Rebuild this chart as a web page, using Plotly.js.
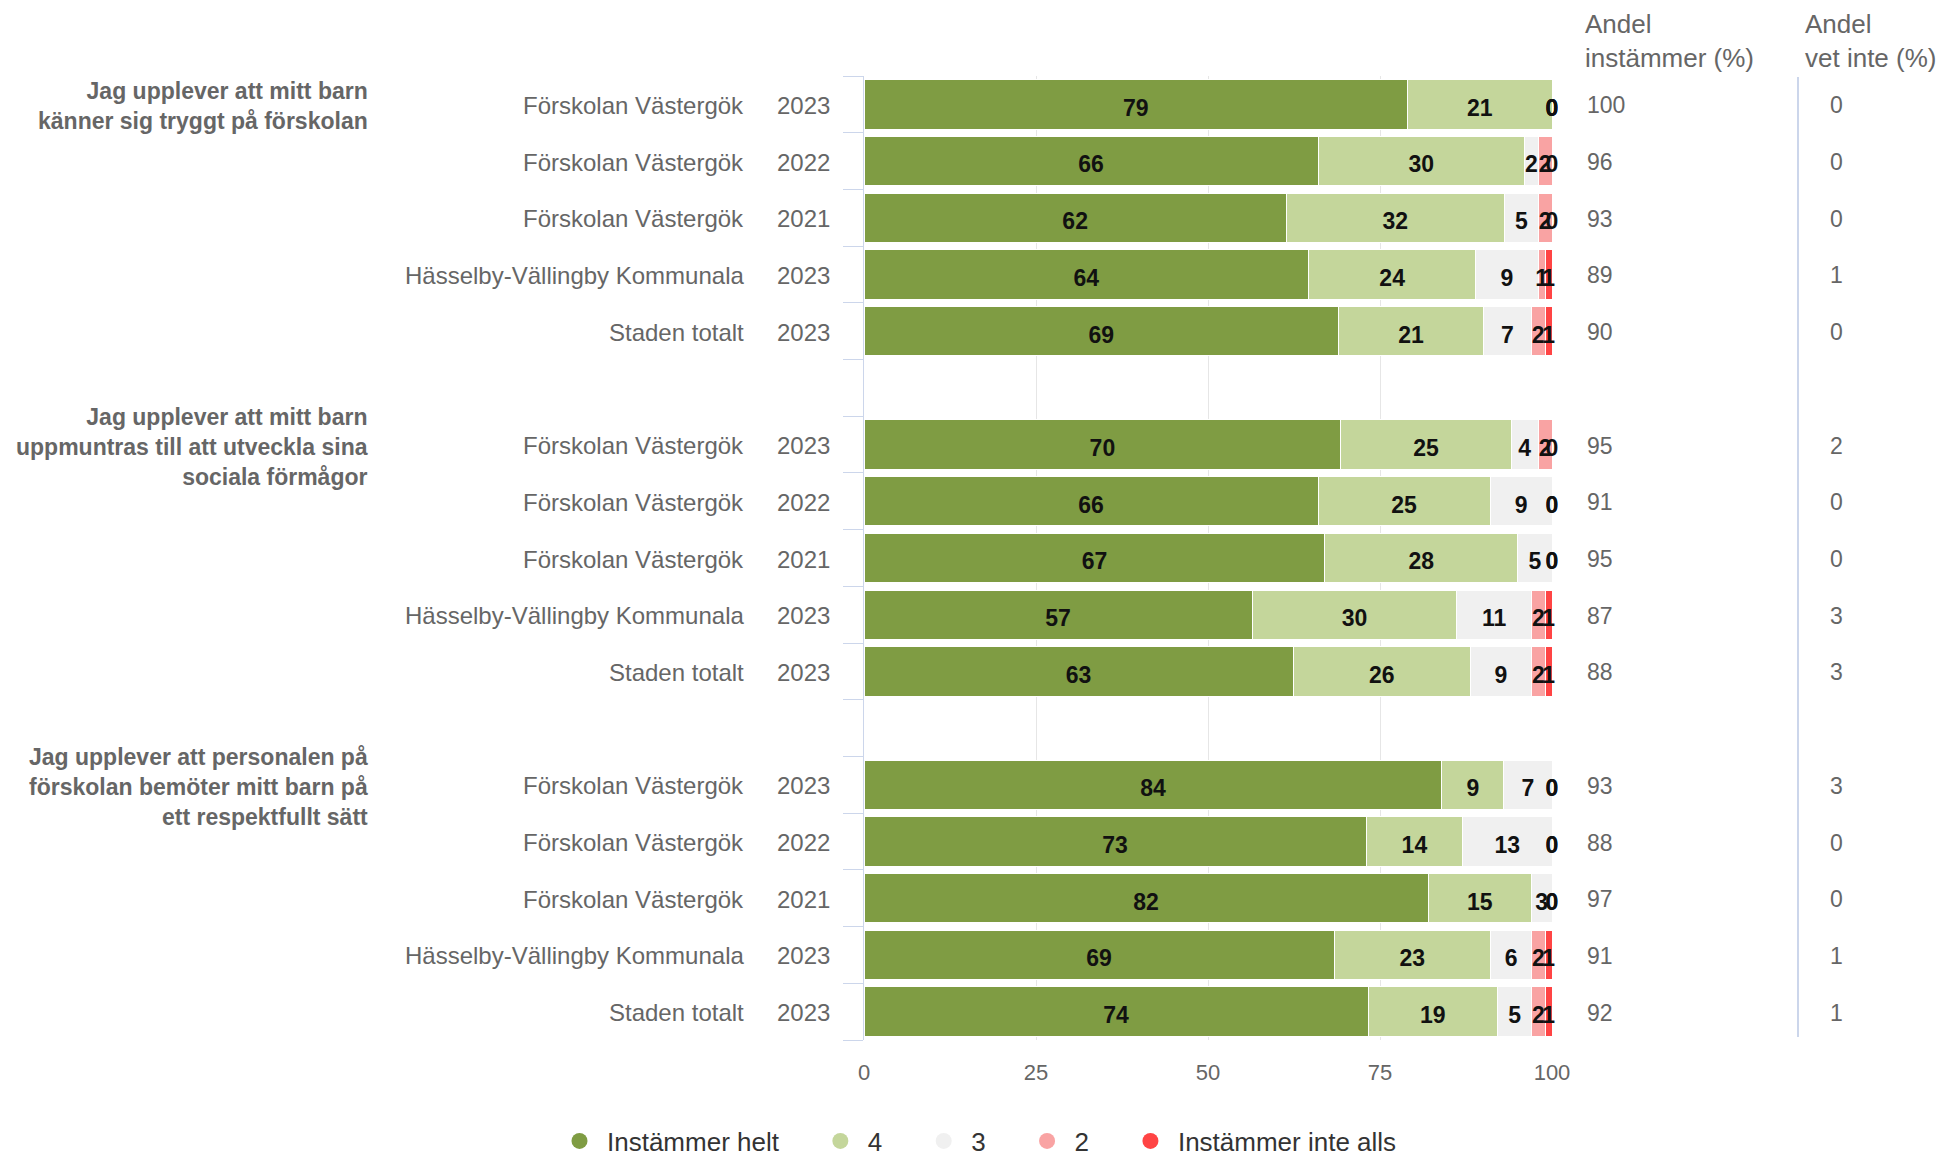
<!DOCTYPE html>
<html><head><meta charset="utf-8">
<script src="https://cdn.plot.ly/plotly-3.0.1.min.js"></script>
<style>html,body{margin:0;padding:0;background:#fff}#chart{width:1944px;height:1158px}</style>
</head><body><div id="chart"></div>
<script>
// ---------------- DATA ----------------
const groupTitles = [
  "Jag upplever att mitt barn<br>känner sig tryggt på förskolan",
  "Jag upplever att mitt barn<br>uppmuntras till att utveckla sina<br>sociala förmågor",
  "Jag upplever att personalen på<br>förskolan bemöter mitt barn på<br>ett respektfullt sätt"
];
const rowGroup = [0,0,0,0,0, 1,1,1,1,1, 2,2,2,2,2];
const rowNames = [
  "Förskolan Västergök","Förskolan Västergök","Förskolan Västergök","Hässelby-Vällingby Kommunala","Staden totalt",
  "Förskolan Västergök","Förskolan Västergök","Förskolan Västergök","Hässelby-Vällingby Kommunala","Staden totalt",
  "Förskolan Västergök","Förskolan Västergök","Förskolan Västergök","Hässelby-Vällingby Kommunala","Staden totalt"
];
const rowYears = ["2023","2022","2021","2023","2023", "2023","2022","2021","2023","2023", "2023","2022","2021","2023","2023"];
const seriesNames = ["Instämmer helt","4","3","2","Instämmer inte alls"];
const seriesColors = ["#7f9c43","#c4d69b","#f0f0f0","#f9a3a3","#ff4444"];
const instammerHelt = [79,66,62,64,69, 70,66,67,57,63, 84,73,82,69,74];
const varde4        = [21,30,32,24,21, 25,25,28,30,26,  9,14,15,23,19];
const varde3        = [ 0, 2, 5, 9, 7,  4, 9, 5,11, 9,  7,13, 3, 6, 5];
const varde2        = [ 0, 2, 2, 1, 2,  2, 0, 0, 2, 2,  0, 0, 0, 2, 2];
const instammerInte = [ 0, 0, 0, 1, 1,  0, 0, 0, 1, 1,  0, 0, 0, 1, 1];
const andelInstammer = [100,96,93,89,90, 95,91,95,87,88, 93,88,97,91,92];
const andelVetInte   = [0,0,0,1,0, 2,0,0,3,3, 3,0,0,1,1];
const xTicks = [0,25,50,75,100];

// ---------------- LAYOUT HELPERS ----------------
const FONT = "Liberation Sans, Arial, Helvetica, sans-serif";
const L = 864, R = 1552, T = 76, B = 1040;
const px = v => (v - L) / (R - L);
const py = v => (B - v) / (B - T);
const LABEL_DROP = 0.1;            // small downward nudge of data labels (fraction of a row)
const LEGEND_PAD = '\u00a0\u00a0\u00a0\u00a0'; // extra spacing after each legend entry

const series = [instammerHelt, varde4, varde3, varde2, instammerInte];
const posInGroup = [];
const counts = {};
rowGroup.forEach((g)=>{ counts[g] = (counts[g]||0); posInGroup.push(counts[g]); counts[g]++; });
const slots = rowGroup.map((g,i)=> g*6 + posInGroup[i]);
const nSlots = 17;

const traces = [];
series.forEach((vals,k)=>{
  traces.push({
    type:'bar', orientation:'h', y: slots, x: vals, width: 0.87,
    marker:{color: seriesColors[k], line:{color:'#ffffff', width:1}},
    showlegend:false, hoverinfo:'skip', name: seriesNames[k]
  });
});

const lx = [], ly = [], lt = [];
slots.forEach((s,i)=>{
  const total = series.reduce((a,v)=>a+v[i],0);
  let cum = 0;
  series.forEach(vals=>{
    const v = vals[i];
    lx.push((cum + v/2) / total * 100);
    ly.push(s + LABEL_DROP);
    lt.push(String(v));
    cum += v;
  });
});
traces.push({
  type:'scatter', mode:'text', x: lx, y: ly, text: lt,
  textposition:'middle center', cliponaxis:false,
  textfont:{family: FONT, size:23, color:'#111111', weight:'bold'},
  showlegend:false, hoverinfo:'skip'
});

seriesNames.forEach((n,k)=>{
  traces.push({
    type:'scatter', mode:'markers', x:[null], y:[null], name: n + LEGEND_PAD,
    marker:{color: seriesColors[k], size:16, symbol:'circle'},
    showlegend:true, hoverinfo:'skip'
  });
});

const annotations = [];
const txt = {family:FONT, size:24, color:'#666666'};
slots.forEach((s,i)=>{
  annotations.push({xref:'paper', yref:'y', x: px(746), y: s, yshift:-1, text: rowNames[i],
    xanchor:'right', yanchor:'middle', showarrow:false, font:txt});
  annotations.push({xref:'paper', yref:'y', x: px(775), y: s, yshift:-1, text: rowYears[i],
    xanchor:'left', yanchor:'middle', showarrow:false, font:txt});
  annotations.push({xref:'paper', yref:'y', x: px(1585), y: s, yshift:-1, text: String(andelInstammer[i]),
    xanchor:'left', yanchor:'middle', showarrow:false, font:{family:FONT, size:23, color:'#666666'}});
  annotations.push({xref:'paper', yref:'y', x: px(1836), y: s, yshift:-1, text: String(andelVetInte[i]),
    xanchor:'center', yanchor:'middle', showarrow:false, font:{family:FONT, size:23, color:'#666666'}});
});
groupTitles.forEach((t,g)=>{
  annotations.push({xref:'paper', yref:'y', x: px(370), y: g*6, yshift:-2, text: t, align:'right',
    xanchor:'right', yanchor:'middle', showarrow:false,
    font:{family:FONT, size:23, color:'#666666', weight:'bold'}});
});
annotations.push({xref:'paper', yref:'paper', x: px(1583), y: py(41), text:'Andel<br>instämmer (%)',
  align:'left', xanchor:'left', yanchor:'middle', showarrow:false, font:{family:FONT, size:26, color:'#666666'}});
annotations.push({xref:'paper', yref:'paper', x: px(1803), y: py(41), text:'Andel<br>vet inte (%)',
  align:'left', xanchor:'left', yanchor:'middle', showarrow:false, font:{family:FONT, size:26, color:'#666666'}});

const boundaries = [];
for (let i=0;i<=nSlots;i++) boundaries.push(i-0.5);

const layout = {
  width:1944, height:1158,
  margin:{l:L, r:1944-R, t:T, b:1158-B, pad:0, autoexpand:false},
  paper_bgcolor:'#ffffff', plot_bgcolor:'#ffffff',
  barmode:'stack', barnorm:'percent', bargap:0,
  font:{family:FONT, color:'#666666'},
  xaxis:{range:[0,100], tickvals:xTicks, ticktext:xTicks.map(String), showgrid:true, gridcolor:'#e6e6e6', gridwidth:1,
    zeroline:false, showline:false, ticks:'', ticklabelstandoff:17,
    tickfont:{family:FONT, size:22, color:'#666666'}, fixedrange:true},
  yaxis:{range:[nSlots-0.5,-0.5], tickmode:'array', tickvals:boundaries, showticklabels:false,
    ticks:'outside', ticklen:20, tickcolor:'#ccd6eb', tickwidth:1,
    showline:true, linecolor:'#ccd6eb', linewidth:1, showgrid:false, zeroline:false, fixedrange:true},
  showlegend:true,
  legend:{orientation:'h', traceorder:'normal', xref:'paper', yref:'paper',
    x: px(552), xanchor:'left', y: py(1141), yanchor:'middle',
    itemwidth:45,
    font:{family:FONT, size:26, color:'#333333'}, bgcolor:'rgba(0,0,0,0)'},
  annotations: annotations,
  shapes:[{type:'line', xref:'paper', yref:'paper', x0:px(1798), x1:px(1798), y0:py(77), y1:py(1037),
    line:{color:'#ccd6eb', width:2}}]
};

Plotly.newPlot('chart', traces, layout, {displayModeBar:false, staticPlot:true});
</script>
</body></html>
